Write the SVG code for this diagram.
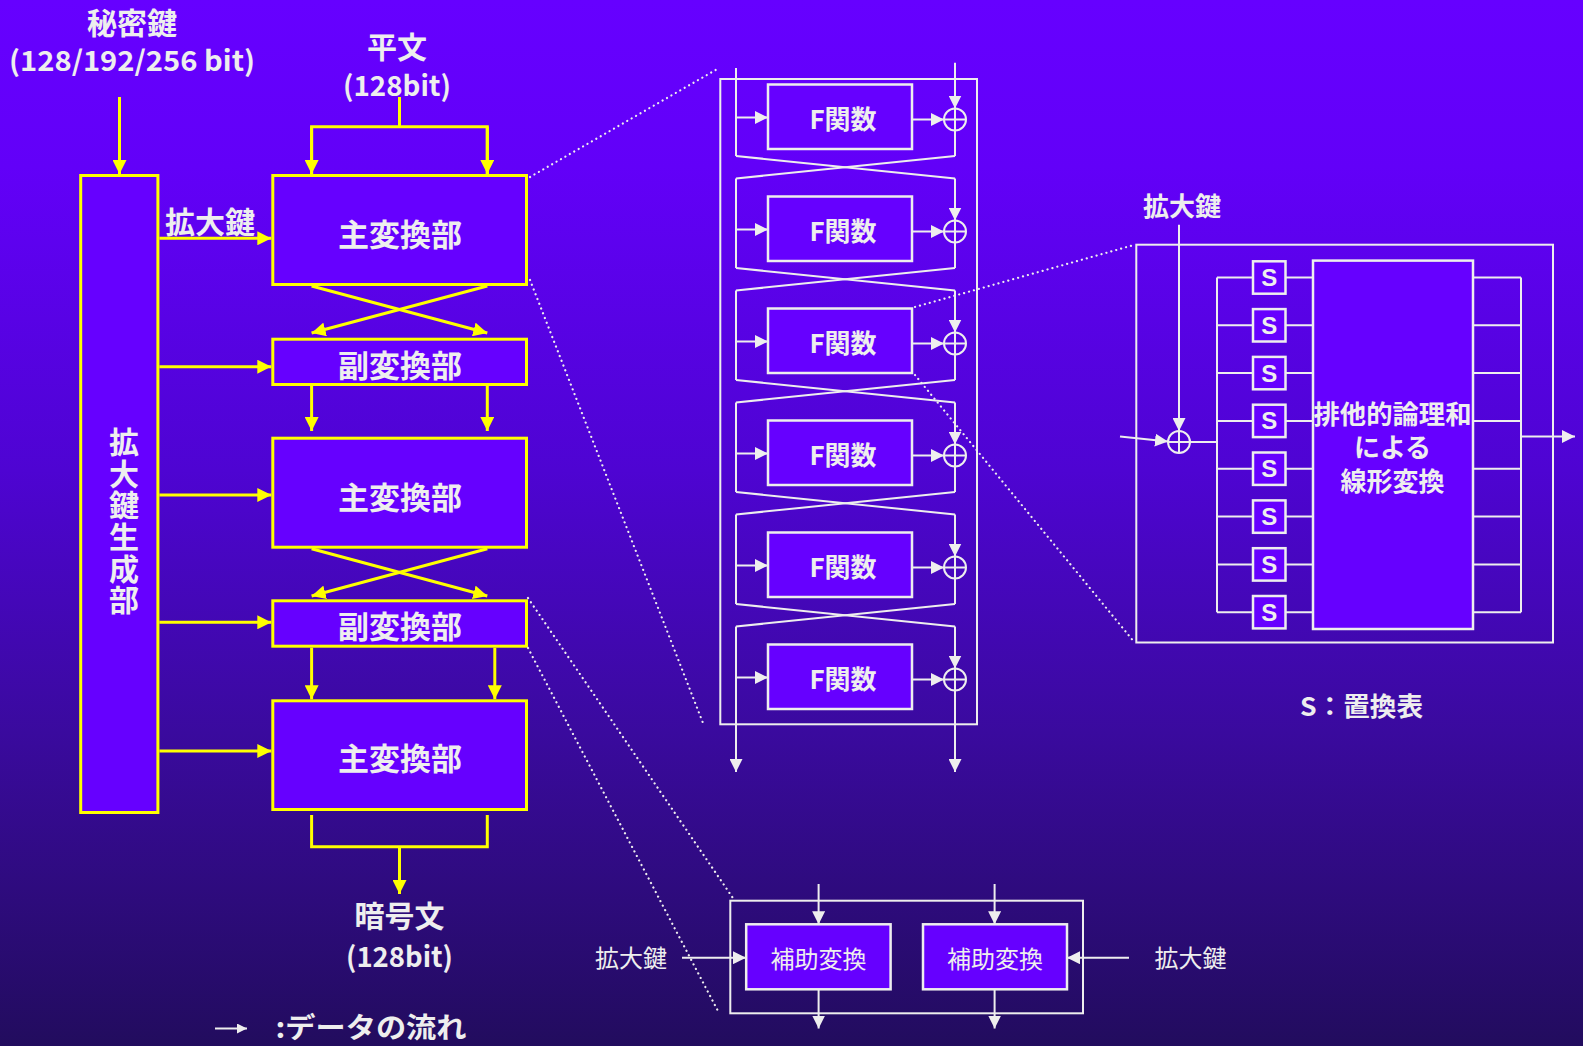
<svg xmlns="http://www.w3.org/2000/svg" width="1583" height="1046" viewBox="0 0 1583 1046">
<defs>
<linearGradient id="bg" x1="0" y1="0" x2="0" y2="1">
<stop offset="0" stop-color="#6600FF"/>
<stop offset="0.16" stop-color="#6200F8"/>
<stop offset="0.45" stop-color="#4E04D2"/>
<stop offset="0.7" stop-color="#3A0A9E"/>
<stop offset="1" stop-color="#220C5E"/>
</linearGradient>
<marker id="ya" markerUnits="userSpaceOnUse" markerWidth="14" markerHeight="14" refX="14" refY="7" orient="auto" viewBox="0 0 14 14">
<path d="M0,0 L14,7 L0,14 z" fill="#FFFF00"/>
</marker>
<marker id="wa" markerUnits="userSpaceOnUse" markerWidth="13" markerHeight="13" refX="13" refY="6.5" orient="auto" viewBox="0 0 13 13">
<path d="M0,0 L13,6.5 L0,13 z" fill="#EEEEEE"/>
</marker>
<marker id="wa2" markerUnits="userSpaceOnUse" markerWidth="10" markerHeight="10" refX="10" refY="5" orient="auto" viewBox="0 0 10 10">
<path d="M0,0 L10,5 L0,10 z" fill="#EEEEEE"/>
</marker>
</defs>
<style>
.yb{fill:#6600FF;stroke:#FFFF00;stroke-width:3}
.yl{fill:none;stroke:#FFFF00;stroke-width:3}
.ya{fill:none;stroke:#FFFF00;stroke-width:3;marker-end:url(#ya)}
.wb{fill:#6600FF;stroke:#EEEEEE;stroke-width:2.5}
.wo{fill:none;stroke:#EEEEEE;stroke-width:2}
.wl{fill:none;stroke:#EEEEEE;stroke-width:2}
.wa{fill:none;stroke:#EEEEEE;stroke-width:2;marker-end:url(#wa)}
.dot{fill:none;stroke:#EEEEEE;stroke-width:2.2;stroke-linecap:round;stroke-dasharray:0.1 5}
.t{fill:#EEEEEE;font-family:"Noto Sans CJK JP","Noto Sans",sans-serif;font-weight:bold;text-anchor:middle}
.tn{fill:#EEEEEE;font-family:"Noto Sans CJK JP","Noto Sans",sans-serif;font-weight:normal;text-anchor:middle}
.s{fill:#EEEEEE;font-family:"Liberation Sans",Arial,sans-serif;font-weight:bold;text-anchor:middle;font-size:24px}
</style>
<rect x="0" y="0" width="1583" height="1046" fill="url(#bg)"/>

<!-- labels -->
<g id="label-key">
<text class="t" x="132" y="33.5" font-size="30">秘密鍵</text>
<text class="t" x="132" y="71" font-size="28" textLength="246" lengthAdjust="spacingAndGlyphs">(128/192/256 bit)</text>
</g>
<g id="label-plain">
<text class="t" x="397" y="58" font-size="30">平文</text>
<text class="t" x="397" y="96" font-size="28" textLength="108" lengthAdjust="spacingAndGlyphs">(128bit)</text>
</g>
<g id="label-cipher">
<text class="t" x="399.5" y="927" font-size="30">暗号文</text>
<text class="t" x="399.5" y="967" font-size="28" textLength="107" lengthAdjust="spacingAndGlyphs">(128bit)</text>
</g>
<g id="label-expkey">
<text class="t" x="210" y="233" font-size="30">拡大鍵</text>
</g>
<g id="legend">
<line x1="215" y1="1028.5" x2="247" y2="1028.5" stroke="#EEEEEE" stroke-width="2" marker-end="url(#wa2)"/>
<text class="t" x="371" y="1038" font-size="28" textLength="191" lengthAdjust="spacingAndGlyphs">:データの流れ</text>
</g>

<!-- yellow connectors -->
<g id="connectors-main">
<line class="ya" x1="119.5" y1="97" x2="119.5" y2="174"/>
<polyline class="yl" points="399.5,97 399.5,126.7"/>
<polyline class="yl" points="311.6,174 311.6,126.7 487.3,126.7 487.3,174"/>
<line class="ya" x1="311.6" y1="126.7" x2="311.6" y2="174"/>
<line class="ya" x1="487.3" y1="126.7" x2="487.3" y2="174"/>
<line class="ya" x1="159.4" y1="238.3" x2="271.3" y2="238.3"/>
<line class="ya" x1="159.4" y1="366.7" x2="271.3" y2="366.7"/>
<line class="ya" x1="159.4" y1="495" x2="271.3" y2="495"/>
<line class="ya" x1="159.4" y1="622.3" x2="271.3" y2="622.3"/>
<line class="ya" x1="159.4" y1="751" x2="271.3" y2="751"/>
<line class="ya" x1="311.6" y1="286" x2="487.3" y2="333"/>
<line class="ya" x1="487.3" y1="286" x2="311.6" y2="333"/>
<line class="ya" x1="311.6" y1="386" x2="311.6" y2="431"/>
<line class="ya" x1="487.3" y1="386" x2="487.3" y2="431"/>
<line class="ya" x1="311.6" y1="548.7" x2="487.3" y2="596"/>
<line class="ya" x1="487.3" y1="548.7" x2="311.6" y2="596"/>
<line class="ya" x1="311.6" y1="647.7" x2="311.6" y2="699.3"/>
<line class="ya" x1="494.8" y1="647.7" x2="494.8" y2="699.3"/>
<polyline class="yl" points="311.6,815 311.6,846.7 487.3,846.7 487.3,815"/>
<line class="ya" x1="399.5" y1="846.7" x2="399.5" y2="894"/>
</g>

<!-- yellow nodes -->
<g id="node-keygen">
<rect class="yb" x="80.7" y="175.5" width="77.2" height="637"/>
<text class="t" x="124" y="521.7" font-size="30" writing-mode="tb" letter-spacing="1.7">拡大鍵生成部</text>
</g>
<g id="node-main1">
<rect class="yb" x="272.8" y="175.5" width="253.7" height="109"/>
<text class="t" x="400" y="245.5" font-size="31">主変換部</text>
</g>
<g id="node-sub1">
<rect class="yb" x="272.8" y="339.2" width="253.7" height="45.3"/>
<text class="t" x="400" y="376.5" font-size="31">副変換部</text>
</g>
<g id="node-main2">
<rect class="yb" x="272.8" y="438.2" width="253.7" height="109"/>
<text class="t" x="400" y="508.5" font-size="31">主変換部</text>
</g>
<g id="node-sub2">
<rect class="yb" x="272.8" y="600.8" width="253.7" height="45.4"/>
<text class="t" x="400" y="637.5" font-size="31">副変換部</text>
</g>
<g id="node-main3">
<rect class="yb" x="272.8" y="700.8" width="253.7" height="108.7"/>
<text class="t" x="400" y="770" font-size="31">主変換部</text>
</g>

<!-- dotted zoom lines -->
<g id="connectors-zoom">
<line class="dot" x1="530" y1="177" x2="719" y2="68"/>
<line class="dot" x1="530" y1="280" x2="703" y2="723"/>
<line class="dot" x1="915" y1="307" x2="1135" y2="244.7"/>
<line class="dot" x1="915" y1="375" x2="1135" y2="643"/>
<line class="dot" x1="528" y1="598" x2="733.6" y2="899"/>
<line class="dot" x1="528" y1="648" x2="719" y2="1013"/>
</g>

<!-- Feistel detail -->
<g id="feistel-frame">
<rect class="wo" x="720.3" y="79" width="256.7" height="645.3"/>
</g>
<g id="connectors-feistel">
<line class="wl" x1="736" y1="68" x2="736" y2="156"/>
<line class="wa" x1="955" y1="62.7" x2="955" y2="108.5"/>
<line class="wl" x1="955" y1="130.5" x2="955" y2="156"/>
<line class="wl" x1="736" y1="156" x2="955" y2="178.5"/>
<line class="wl" x1="955" y1="156" x2="736" y2="178.5"/>

<line class="wl" x1="736" y1="178.5" x2="736" y2="268"/>
<line class="wa" x1="955" y1="178.5" x2="955" y2="220.5"/>
<line class="wl" x1="955" y1="242.5" x2="955" y2="268"/>
<line class="wl" x1="736" y1="268" x2="955" y2="290.5"/>
<line class="wl" x1="955" y1="268" x2="736" y2="290.5"/>

<line class="wl" x1="736" y1="290.5" x2="736" y2="380"/>
<line class="wa" x1="955" y1="290.5" x2="955" y2="332.5"/>
<line class="wl" x1="955" y1="354.5" x2="955" y2="380"/>
<line class="wl" x1="736" y1="380" x2="955" y2="402.5"/>
<line class="wl" x1="955" y1="380" x2="736" y2="402.5"/>

<line class="wl" x1="736" y1="402.5" x2="736" y2="492"/>
<line class="wa" x1="955" y1="402.5" x2="955" y2="444.5"/>
<line class="wl" x1="955" y1="466.5" x2="955" y2="492"/>
<line class="wl" x1="736" y1="492" x2="955" y2="514.5"/>
<line class="wl" x1="955" y1="492" x2="736" y2="514.5"/>

<line class="wl" x1="736" y1="514.5" x2="736" y2="604"/>
<line class="wa" x1="955" y1="514.5" x2="955" y2="556.5"/>
<line class="wl" x1="955" y1="578.5" x2="955" y2="604"/>
<line class="wl" x1="736" y1="604" x2="955" y2="626.5"/>
<line class="wl" x1="955" y1="604" x2="736" y2="626.5"/>

<line class="wa" x1="736" y1="626.5" x2="736" y2="772"/>
<line class="wa" x1="955" y1="626.5" x2="955" y2="668.5"/>
<line class="wa" x1="955" y1="690.5" x2="955" y2="772"/>

<line class="wa" x1="736" y1="117.5" x2="768" y2="117.5"/>
<line class="wa" x1="912" y1="119.5" x2="944" y2="119.5"/>
<line class="wa" x1="736" y1="229.5" x2="768" y2="229.5"/>
<line class="wa" x1="912" y1="231.5" x2="944" y2="231.5"/>
<line class="wa" x1="736" y1="341.5" x2="768" y2="341.5"/>
<line class="wa" x1="912" y1="343.5" x2="944" y2="343.5"/>
<line class="wa" x1="736" y1="453.5" x2="768" y2="453.5"/>
<line class="wa" x1="912" y1="455.5" x2="944" y2="455.5"/>
<line class="wa" x1="736" y1="565.5" x2="768" y2="565.5"/>
<line class="wa" x1="912" y1="567.5" x2="944" y2="567.5"/>
<line class="wa" x1="736" y1="677.5" x2="768" y2="677.5"/>
<line class="wa" x1="912" y1="679.5" x2="944" y2="679.5"/>
</g>
<g id="xor-f1"><circle class="wo" cx="955" cy="119.5" r="11"/><path class="wl" d="M944,119.5 H966 M955,108.5 V130.5"/></g>
<g id="xor-f2"><circle class="wo" cx="955" cy="231.5" r="11"/><path class="wl" d="M944,231.5 H966 M955,220.5 V242.5"/></g>
<g id="xor-f3"><circle class="wo" cx="955" cy="343.5" r="11"/><path class="wl" d="M944,343.5 H966 M955,332.5 V354.5"/></g>
<g id="xor-f4"><circle class="wo" cx="955" cy="455.5" r="11"/><path class="wl" d="M944,455.5 H966 M955,444.5 V466.5"/></g>
<g id="xor-f5"><circle class="wo" cx="955" cy="567.5" r="11"/><path class="wl" d="M944,567.5 H966 M955,556.5 V578.5"/></g>
<g id="xor-f6"><circle class="wo" cx="955" cy="679.5" r="11"/><path class="wl" d="M944,679.5 H966 M955,668.5 V690.5"/></g>
<g id="f1"><rect class="wb" x="768" y="84.5" width="144" height="64.5"/><text class="t" x="843" y="128.5" font-size="26">F関数</text></g>
<g id="f2"><rect class="wb" x="768" y="196.5" width="144" height="64.5"/><text class="t" x="843" y="240.5" font-size="26">F関数</text></g>
<g id="f3"><rect class="wb" x="768" y="308.5" width="144" height="64.5"/><text class="t" x="843" y="352.5" font-size="26">F関数</text></g>
<g id="f4"><rect class="wb" x="768" y="420.5" width="144" height="64.5"/><text class="t" x="843" y="464.5" font-size="26">F関数</text></g>
<g id="f5"><rect class="wb" x="768" y="532.5" width="144" height="64.5"/><text class="t" x="843" y="576.5" font-size="26">F関数</text></g>
<g id="f6"><rect class="wb" x="768" y="644.5" width="144" height="64.5"/><text class="t" x="843" y="688.5" font-size="26">F関数</text></g>

<!-- F function detail -->
<g id="ffunc-frame">
<rect class="wo" x="1136.3" y="244.7" width="416.7" height="397.8"/>
<text class="t" x="1182" y="216" font-size="26">拡大鍵</text>
<text class="t" x="1361.5" y="716" font-size="26" textLength="123" lengthAdjust="spacingAndGlyphs">S：置換表</text>
</g>
<g id="connectors-ffunc">
<line class="wa" x1="1179" y1="224.8" x2="1179" y2="431"/>
<line class="wa" x1="1120" y1="436.5" x2="1168" y2="441.5"/>
<line class="wl" x1="1190" y1="442" x2="1217" y2="442"/>
<line class="wl" x1="1217" y1="277.5" x2="1217" y2="612.2"/>
<line class="wl" x1="1521" y1="277.5" x2="1521" y2="612.2"/>
<line class="wa" x1="1521" y1="436.5" x2="1575" y2="436.5"/>
<path class="wl" d="M1217,277.5 H1253 M1285.5,277.5 H1313 M1473,277.5 H1521
M1217,325.3 H1253 M1285.5,325.3 H1313 M1473,325.3 H1521
M1217,373.1 H1253 M1285.5,373.1 H1313 M1473,373.1 H1521
M1217,420.9 H1253 M1285.5,420.9 H1313 M1473,420.9 H1521
M1217,468.7 H1253 M1285.5,468.7 H1313 M1473,468.7 H1521
M1217,516.6 H1253 M1285.5,516.6 H1313 M1473,516.6 H1521
M1217,564.4 H1253 M1285.5,564.4 H1313 M1473,564.4 H1521
M1217,612.2 H1253 M1285.5,612.2 H1313 M1473,612.2 H1521"/>
</g>
<g id="xor-key"><circle class="wo" cx="1179" cy="442" r="11"/><path class="wl" d="M1168,442 H1190 M1179,431 V453"/></g>
<g id="sbox1"><rect class="wb" x="1253" y="261.3" width="32.5" height="32.4"/><text class="s" x="1269.2" y="286">S</text></g>
<g id="sbox2"><rect class="wb" x="1253" y="309.1" width="32.5" height="32.4"/><text class="s" x="1269.2" y="333.8">S</text></g>
<g id="sbox3"><rect class="wb" x="1253" y="356.9" width="32.5" height="32.4"/><text class="s" x="1269.2" y="381.6">S</text></g>
<g id="sbox4"><rect class="wb" x="1253" y="404.7" width="32.5" height="32.4"/><text class="s" x="1269.2" y="429.4">S</text></g>
<g id="sbox5"><rect class="wb" x="1253" y="452.5" width="32.5" height="32.4"/><text class="s" x="1269.2" y="477.2">S</text></g>
<g id="sbox6"><rect class="wb" x="1253" y="500.4" width="32.5" height="32.4"/><text class="s" x="1269.2" y="525.1">S</text></g>
<g id="sbox7"><rect class="wb" x="1253" y="548.2" width="32.5" height="32.4"/><text class="s" x="1269.2" y="572.9">S</text></g>
<g id="sbox8"><rect class="wb" x="1253" y="596" width="32.5" height="32.4"/><text class="s" x="1269.2" y="620.7">S</text></g>
<g id="linear">
<rect class="wb" x="1313" y="260.6" width="160" height="368.4"/>
<text class="t" font-size="26"><tspan x="1392.5" y="423.5" textLength="158" lengthAdjust="spacingAndGlyphs">排他的論理和</tspan><tspan x="1392.5" y="457">による</tspan><tspan x="1392.5" y="490.5">線形変換</tspan></text>
</g>

<!-- FL detail -->
<g id="fl-frame">
<rect class="wo" x="730.3" y="900.7" width="352.7" height="112.6"/>
<text class="tn" x="631" y="967" font-size="24">拡大鍵</text>
<text class="tn" x="1190.5" y="967" font-size="24">拡大鍵</text>
</g>
<g id="connectors-fl">
<line class="wa" x1="818.6" y1="884" x2="818.6" y2="924.3"/>
<line class="wa" x1="994.6" y1="884" x2="994.6" y2="924.3"/>
<line class="wa" x1="818.6" y1="989.3" x2="818.6" y2="1028.5"/>
<line class="wa" x1="994.6" y1="989.3" x2="994.6" y2="1028.5"/>
<line class="wa" x1="682" y1="957.7" x2="746" y2="957.7"/>
<line class="wa" x1="1129" y1="957.7" x2="1067" y2="957.7"/>
</g>
<g id="fl1"><rect class="wb" x="746.2" y="924.3" width="144.4" height="65"/><text class="tn" x="818.6" y="967.5" font-size="24">補助変換</text></g>
<g id="fl2"><rect class="wb" x="923" y="924.3" width="144" height="65"/><text class="tn" x="995" y="967.5" font-size="24">補助変換</text></g>
</svg>
